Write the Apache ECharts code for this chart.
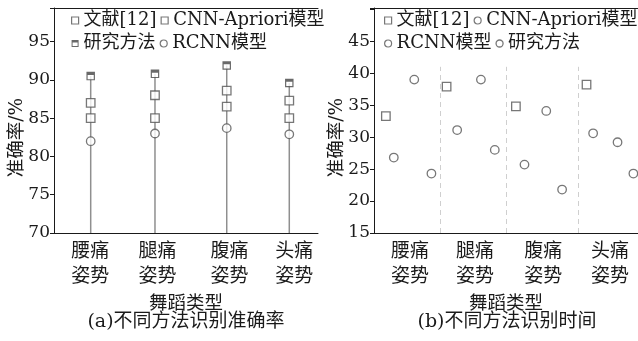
<!DOCTYPE html>
<html>
<head>
<meta charset="utf-8">
<script src="https://cdn.jsdelivr.net/npm/echarts@6/dist/echarts.min.js"></script>
<style>
  html, body { margin: 0; padding: 0; background: #fff; }
  #chart { width: 638px; height: 341px; }
</style>
</head>
<body>
<div id="chart"></div>
<script>
// Posture categories shared by both panels
const postures = ['腰痛\n姿势', '腿痛\n姿势', '腹痛\n姿势', '头痛\n姿势'];

// (a) recognition accuracy, %
const accRef12 = [85.0, 85.0, 86.5, 85.0];
const accCnnApriori = [87.0, 88.0, 88.6, 87.3];
const accOurs = [90.5, 90.8, 91.9, 89.6];
const accRcnn = [82.0, 83.0, 83.7, 82.9];
const accTicks = [70, 75, 80, 85, 90, 95];

// (b) recognition time
const timeRef12 = [33.3, 37.9, 34.8, 38.2];
const timeCnnApriori = [26.8, 31.1, 25.7, 30.6];
const timeRcnn = [39.0, 39.0, 34.1, 29.2];
const timeOurs = [24.3, 28.0, 21.8, 24.3];
const timeTicks = [15, 20, 25, 30, 35, 40, 45];

// Horizontal placement on a 0..4 posture band (one unit per posture)
const accStemX = [0.556, 1.53, 2.617, 3.565];
const accLabelX = [0.55, 1.57, 2.66, 3.64];
const timeRef12X = [0.18, 1.10, 2.15, 3.22];
const timeCnnAprioriX = [0.30, 1.26, 2.28, 3.32];
const timeRcnnX = [0.61, 1.62, 2.61, 3.69];
const timeOursX = [0.87, 1.83, 2.85, 3.93];
const timeLabelX = [0.545, 1.53, 2.565, 3.576];
const timeDividerX = [1, 2, 3.1];

const ACC_MIN = 70, ACC_MAX = 99.4;
const TIME_MIN = 15, TIME_MAX = 50.2, DIVIDER_TOP = 41;

const FONT = "'DejaVu Serif', 'Noto Sans CJK SC', serif";
const INK = '#1a1a1a';
const MARK = '#555';
// square outline with a heavy top edge
const OURS_ICON = 'path://M0 0H10V10H0Z M1.4 3.6V8.6H8.6V3.6Z';

const pairs = (xs, ys) => xs.map((x, i) => [x, ys[i]]);
const slotLabel = slots => v => {
  const i = slots.findIndex(s => Math.abs(s - v) < 1e-6);
  return i < 0 ? '' : postures[i];
};
const markerStyle = { color: '#fff', borderColor: MARK, borderWidth: 1.3 };

const textBase = { color: INK, fontFamily: FONT };

function bottomAxis(grid, labelX, extra) {
  return Object.assign({
    gridIndex: grid, type: 'value', min: 0, max: 4, position: 'bottom',
    axisLine: { show: true, lineStyle: { color: INK, width: 1 } },
    axisTick: { show: false },
    splitLine: { show: false },
    axisLabel: Object.assign({
      customValues: labelX, formatter: slotLabel(labelX),
      margin: 7, fontSize: 19, lineHeight: 25
    }, textBase),
    name: '舞蹈类型', nameLocation: 'middle', nameGap: 62, nameMoveOverlap: false,
    nameTextStyle: Object.assign({ fontSize: 18.5, lineHeight: 18 }, textBase)
  }, extra || {});
}
function topBorder(grid) {
  return {
    gridIndex: grid, type: 'value', min: 0, max: 4, position: 'top',
    axisLine: { show: true, lineStyle: { color: INK, width: 1 } },
    axisTick: { show: false }, axisLabel: { show: false }, splitLine: { show: false }
  };
}
function leftAxis(grid, min, max, ticks) {
  return {
    gridIndex: grid, type: 'value', min: min, max: max, interval: 5,
    axisLine: { show: true, lineStyle: { color: INK, width: 1 } },
    axisTick: { show: true, length: 4, lineStyle: { color: INK } },
    splitLine: { show: false },
    axisLabel: Object.assign({
      formatter: v => (ticks.includes(v) ? String(v) : ''),
      margin: 4, fontSize: 17
    }, textBase, { fontFamily: "'DejaVu Serif', serif" }),
    name: '准确率/%', nameLocation: 'middle', nameRotate: 90, nameGap: 28, nameMoveOverlap: false,
    nameTextStyle: Object.assign({ fontSize: 18.5, padding: [0, 34, 0, 0] }, textBase)
  };
}

const legendCommon = {
  orient: 'horizontal', padding: 0, itemGap: 4, itemWidth: 7, itemHeight: 7,
  itemStyle: { borderWidth: 1.2 },
  textStyle: Object.assign({ fontSize: 18, lineHeight: 19 }, textBase)
};

const option = {
  animation: false,
  backgroundColor: '#fff',
  grid: [
    { left: 54, right: 320, top: 8, bottom: 108 },
    { left: 374, right: 0, top: 8, bottom: 108 }
  ],
  xAxis: [
    bottomAxis(0, accLabelX),
    topBorder(0),
    bottomAxis(1, timeLabelX, {
      axisTick: { show: true, inside: true, length: 4, customValues: timeDividerX, lineStyle: { color: INK } }
    }),
    topBorder(1)
  ],
  yAxis: [
    leftAxis(0, ACC_MIN, ACC_MAX, accTicks),
    leftAxis(1, TIME_MIN, TIME_MAX, timeTicks)
  ],
  legend: [
    Object.assign({
      left: 71, top: 11, width: 255,
      data: [
        { name: '文献[12]', icon: 'rect' },
        { name: 'CNN-Apriori模型', icon: 'rect' },
        { name: '研究方法', icon: OURS_ICON, itemStyle: { color: '#444', borderWidth: 0 } },
        { name: 'RCNN模型', icon: 'circle' }
      ]
    }, legendCommon),
    Object.assign({
      left: 384, top: 11, width: 255,
      data: [
        { name: '文献[12]', icon: 'rect' },
        { name: 'CNN-Apriori模型', icon: 'circle' },
        { name: 'RCNN模型', icon: 'circle' },
        { name: '研究方法', icon: 'circle', itemStyle: markerStyle }
      ]
    }, legendCommon)
  ],
  graphic: [
    { type: 'text', x: 186, y: 322, style: { text: '(a)不同方法识别准确率', fontSize: 19, align: 'center', verticalAlign: 'middle', fill: INK, fontFamily: FONT } },
    { type: 'text', x: 507, y: 322, style: { text: '(b)不同方法识别时间', fontSize: 19, align: 'center', verticalAlign: 'middle', fill: INK, fontFamily: FONT } }
  ],
  series: [
    // (a) stems from the axis floor up to the best score
    {
      type: 'custom', xAxisIndex: 0, yAxisIndex: 0, silent: true,
      data: pairs(accStemX, accOurs),
      renderItem: (params, api) => {
        const x = api.value(0);
        const p0 = api.coord([x, ACC_MIN]);
        const p1 = api.coord([x, api.value(1)]);
        return { type: 'line', shape: { x1: p0[0], y1: p0[1], x2: p1[0], y2: p1[1] },
                 style: { stroke: '#8f8f8f', lineWidth: 1.5 } };
      }
    },
    { name: '文献[12]', type: 'scatter', xAxisIndex: 0, yAxisIndex: 0, symbol: 'rect', symbolSize: 8.5,
      itemStyle: markerStyle, data: pairs(accStemX, accRef12) },
    { name: 'CNN-Apriori模型', type: 'scatter', xAxisIndex: 0, yAxisIndex: 0, symbol: 'rect', symbolSize: 8.5,
      itemStyle: markerStyle, data: pairs(accStemX, accCnnApriori) },
    // white backing so the stem does not show through the open marker
    { type: 'scatter', xAxisIndex: 0, yAxisIndex: 0, symbol: 'rect', symbolSize: 7.5, silent: true,
      itemStyle: { color: '#fff' }, data: pairs(accStemX, accOurs) },
    { name: '研究方法', type: 'scatter', xAxisIndex: 0, yAxisIndex: 0, symbol: OURS_ICON, symbolSize: 8.5,
      itemStyle: { color: '#444' }, data: pairs(accStemX, accOurs) },
    { name: 'RCNN模型', type: 'scatter', xAxisIndex: 0, yAxisIndex: 0, symbol: 'circle', symbolSize: 8.5,
      itemStyle: markerStyle, data: pairs(accStemX, accRcnn) },

    // (b) recognition time
    { name: '文献[12]', type: 'scatter', xAxisIndex: 2, yAxisIndex: 1, symbol: 'rect', symbolSize: 8.5,
      itemStyle: markerStyle, data: pairs(timeRef12X, timeRef12),
      markLine: {
        silent: true, symbol: ['none', 'none'], label: { show: false },
        lineStyle: { type: [5, 4], color: '#cfcfcf', width: 1 },
        data: timeDividerX.map(x => [{ coord: [x, TIME_MIN] }, { coord: [x, DIVIDER_TOP] }])
      } },
    { name: 'CNN-Apriori模型', type: 'scatter', xAxisIndex: 2, yAxisIndex: 1, symbol: 'circle', symbolSize: 8.5,
      itemStyle: markerStyle, data: pairs(timeCnnAprioriX, timeCnnApriori) },
    { name: 'RCNN模型', type: 'scatter', xAxisIndex: 2, yAxisIndex: 1, symbol: 'circle', symbolSize: 8.5,
      itemStyle: markerStyle, data: pairs(timeRcnnX, timeRcnn) },
    { name: '研究方法', type: 'scatter', xAxisIndex: 2, yAxisIndex: 1, symbol: 'circle', symbolSize: 8.5,
      itemStyle: markerStyle, data: pairs(timeOursX, timeOurs) }
  ]
};

const chart = echarts.init(document.getElementById('chart'), null, { renderer: 'canvas' });
chart.setOption(option);
</script>
</body>
</html>
